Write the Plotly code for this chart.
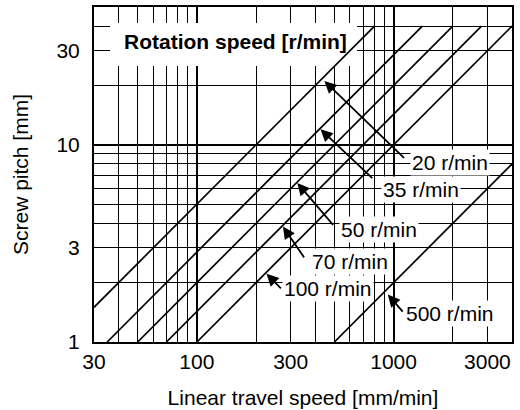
import math
import plotly.graph_objects as go

# ---- data ----
rpm_labels = ["20 r/min", "35 r/min", "50 r/min", "70 r/min", "100 r/min", "500 r/min"]
speed_start = [30, 35, 50, 70, 100, 500]          # mm/min
pitch_start = [1.5, 1, 1, 1, 1, 1]                # mm
speed_end = [800, 1400, 2000, 2800, 4000, 4000]   # mm/min
pitch_end = [40, 40, 40, 40, 40, 8]               # mm

# arrow heads (next to the lines) and tails (next to labels)
arrow_head_speed = [445, 425, 324, 274, 226, 935]
arrow_head_pitch = [21.1, 12.0, 6.4, 3.85, 2.22, 1.74]
arrow_tail_speed = [1150, 793, 500, 355, 272, 1130]
arrow_tail_pitch = [8.45, 6.67, 3.86, 2.64, 1.84, 1.40]

x_tickvals = [30, 100, 300, 1000, 3000]
x_ticktext = ["30", "100", "300", "1000", "3000"]
y_tickvals = [1, 3, 10, 30]
y_ticktext = ["1", "3", "10", "30"]
x_thin_grid = [40, 50, 60, 70, 80, 90, 200, 300, 400, 500, 600, 700, 800, 900, 2000, 3000]
y_thin_grid = [2, 3, 4, 5, 6, 7, 8, 9, 20, 30, 40]
x_thick_grid = [100, 1000]
y_thick_grid = [10]
x_range = [30, 4000]
y_range = [1, 50]

FONT = "Liberation Sans, Arial, sans-serif"
FS = 21

# layout geometry (pixels)
W, H = 520, 410
ML, MR, MT, MB = 94, 8, 7, 68
PW, PH = W - ML - MR, H - MT - MB

lr_x = [math.log10(v) for v in x_range]
lr_y = [math.log10(v) for v in y_range]


def paper(px, py):
    return (px - ML) / PW, (H - MB - py) / PH


def data(px, py):
    fx, fy = paper(px, py)
    return (10 ** (lr_x[0] + fx * (lr_x[1] - lr_x[0])),
            10 ** (lr_y[0] + fy * (lr_y[1] - lr_y[0])))


fig = go.Figure()
for i in range(len(rpm_labels)):
    fig.add_trace(go.Scatter(
        x=[speed_start[i], speed_end[i]], y=[pitch_start[i], pitch_end[i]],
        mode="lines", line=dict(color="black", width=1.7),
        name=rpm_labels[i], showlegend=False, hoverinfo="skip"))

fig.update_layout(
    width=W, height=H,
    margin=dict(l=ML, r=MR, t=MT, b=MB, pad=0, autoexpand=False),
    paper_bgcolor="white", plot_bgcolor="white",
    font=dict(family=FONT, size=FS, color="black"),
    xaxis=dict(type="log", range=lr_x, tickmode="array", tickvals=x_tickvals,
               ticktext=x_ticktext, showgrid=False, ticks="", zeroline=False,
               showline=True, linecolor="black", linewidth=2, mirror=True,
               ticklabelstandoff=0, automargin=False,
               minor=dict(tickmode="array", tickvals=x_thin_grid, showgrid=True,
                          gridcolor="black", gridwidth=1, ticks=""),
               title=dict(text="Linear travel speed [mm/min]", standoff=18,
                          font=dict(size=FS))),
    yaxis=dict(type="log", range=lr_y, tickmode="array", tickvals=y_tickvals,
               ticktext=y_ticktext, showgrid=False, ticks="", zeroline=False,
               showline=True, linecolor="black", linewidth=2, mirror=True,
               ticklabelstandoff=8, automargin=False,
               minor=dict(tickmode="array", tickvals=y_thin_grid, showgrid=True,
                          gridcolor="black", gridwidth=1, ticks=""),
               title=dict(text="Screw pitch [mm]", standoff=22, font=dict(size=FS))),
    xaxis2=dict(type="log", range=lr_x, overlaying="x", anchor="y",
                tickmode="array", tickvals=x_thick_grid, showticklabels=False,
                ticks="", showgrid=True, gridcolor="black", gridwidth=2,
                zeroline=False, showline=False, automargin=False),
    yaxis2=dict(type="log", range=lr_y, overlaying="y", anchor="x",
                tickmode="array", tickvals=y_thick_grid, showticklabels=False,
                ticks="", showgrid=True, gridcolor="black", gridwidth=2,
                zeroline=False, showline=False, automargin=False),
)
# invisible trace so the overlay axes are drawn
fig.add_trace(go.Scatter(x=[x_range[0]], y=[y_range[0]], xaxis="x2", yaxis="y2",
                         mode="markers", marker=dict(opacity=0), showlegend=False,
                         hoverinfo="skip"))

# white box behind the title label (between gridlines and traces)
bx0, by0 = data(110, 66)
bx1, by1 = data(357, 23)
fig.add_shape(type="rect", xref="x", yref="y", x0=bx0, y0=by0, x1=bx1, y1=by1,
              fillcolor="white", line=dict(width=0), layer="between")

tx, ty = paper(235.5, 42)
fig.add_annotation(xref="paper", yref="paper", x=tx, y=ty, text="<b>Rotation speed [r/min]</b>",
                   showarrow=False, xanchor="center", yanchor="middle",
                   font=dict(size=FS, family=FONT, color="black"))

# label centres (pixels)
label_px = [(450, 162), (421, 189.5), (379, 229.5), (350, 261), (328, 288), (449.5, 313)]
for i, (px, py) in enumerate(label_px):
    lx, ly = paper(px, py)
    fig.add_annotation(xref="paper", yref="paper", x=lx, y=ly, text=rpm_labels[i],
                       showarrow=False, xanchor="center", yanchor="middle",
                       bgcolor="white", borderpad=1,
                       font=dict(size=FS, family=FONT, color="black"))

for i in range(len(rpm_labels)):
    fig.add_annotation(
        xref="x", yref="y", axref="x", ayref="y",
        x=math.log10(arrow_head_speed[i]), y=math.log10(arrow_head_pitch[i]),
        ax=math.log10(arrow_tail_speed[i]), ay=math.log10(arrow_tail_pitch[i]),
        text="", showarrow=True, arrowhead=2, arrowsize=1.35, arrowwidth=1.8,
        arrowcolor="black", standoff=0, startstandoff=0)

fig.write_html("out.html", config={"displayModeBar": False},
               post_script="document.body.style.margin='0';document.body.style.padding='0';")
